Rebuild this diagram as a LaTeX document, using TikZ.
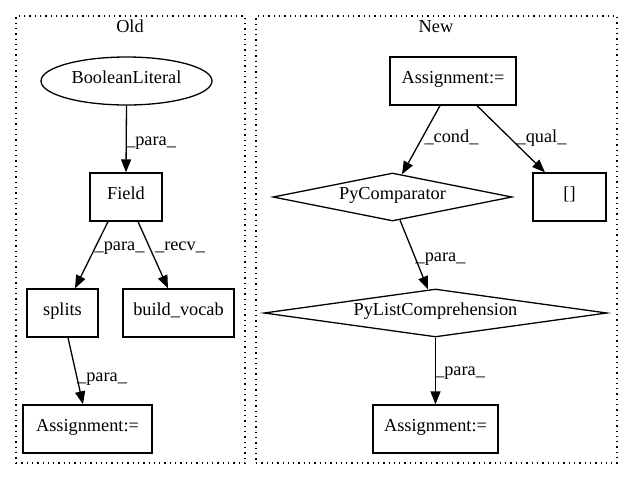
\documentclass[tikz,border=0pt]{standalone}
\usepackage{fontspec}
\setmainfont{Liberation Serif}
\usetikzlibrary{arrows.meta,shapes.geometric}
\begin{document}
\begin{tikzpicture}[x=1pt,y=-1pt,
  every node/.style={font=\fontsize{18.3}{22}\selectfont, inner sep=0pt, text height=0.7em, text depth=0.22em},
  cluster/.style={draw, line width=1.3pt, dash pattern=on 1.3pt off 4pt, rectangle},
  box/.style={draw, line width=1.3pt, rectangle, minimum height=48},
  oval/.style={draw, line width=1.3pt, ellipse, minimum width=171, minimum height=48},
  dia/.style={draw, line width=1.3pt, diamond, aspect=7, minimum height=48},
  lbl/.style={},
  edge/.style={draw, line width=1.3pt, -{Triangle[length=13pt, width=10pt]}}]
\useasboundingbox (0,0) rectangle (632,480);
% clusters
\node[cluster, minimum width=229, minimum height=447] (oldc) at (130.5,239.5) {};
\node (oldt) at (130,30) {Old};
\node[cluster, minimum width=361, minimum height=447] (newc) at (436.5,239.5) {};
\node (newt) at (436,30) {New};
% old nodes
\node[oval] (bool) at (126.5,81) {BooleanLiteral};
\node[box, minimum width=72] (field) at (126,197) {Field};
\node[box, minimum width=71] (splits) at (62.5,313) {splits};
\node[box, minimum width=111] (build) at (178.5,313) {build\_vocab};
\node[box, minimum width=129] (oassign) at (87.5,429) {Assignment:=};
% new nodes
\node[box, minimum width=126] (nassign) at (453,81) {Assignment:=};
\node[dia, minimum width=239] (pycomp) at (392.5,197) {PyComparator};
\node[box, minimum width=73] (br) at (569.5,197) {[]};
\node[dia, minimum width=343] (plc) at (435.5,313) {PyListComprehension};
\node[box, minimum width=125] (nassign2) at (435.5,429) {Assignment:=};
% old edges
\draw[edge] (bool.south) -- (field.north);
\draw[edge] ([xshift=-18pt]field.south) -- ([xshift=12.5pt]splits.north);
\draw[edge] ([xshift=12pt]field.south) -- ([xshift=-10.5pt]build.north);
\draw[edge] ([xshift=5.5pt]splits.south) -- ([xshift=-4.5pt]oassign.north);
% new edges
\draw[edge] ([xshift=-13pt]nassign.south) -- ([xshift=9.5pt,yshift=-2pt]pycomp.north);
\draw[edge] ([xshift=24pt]nassign.south) -- ([xshift=-24.5pt]br.north);
\draw[edge] ([xshift=7.5pt,yshift=1.5pt]pycomp.south) -- ([xshift=-7.5pt,yshift=-1pt]plc.north);
\draw[edge] (plc.south) -- (nassign2.north);
% labels
\node[lbl] (l1) at (151,143) {\_para\_};
\node[lbl] (l2) at (119.5,248) {\_para\_};
\node[lbl] (l3) at (180,248) {\_recv\_};
\node[lbl] (l4) at (102,379) {\_para\_};
\node[lbl] (l5) at (451.5,140) {\_cond\_};
\node[lbl] (l6) at (541.5,140) {\_qual\_};
\node[lbl] (l7) at (440.5,259) {\_para\_};
\node[lbl] (l8) at (460,373) {\_para\_};
\end{tikzpicture}
\end{document}
